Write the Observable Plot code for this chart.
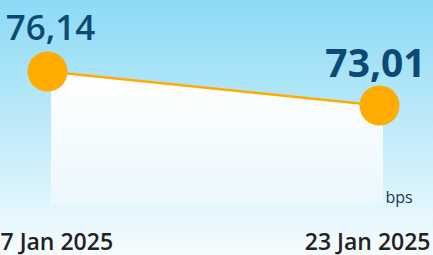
<!DOCTYPE html>
<html>
<head>
<meta charset="utf-8">
<script src="https://cdn.jsdelivr.net/npm/d3@7"></script>
<script src="https://cdn.jsdelivr.net/npm/@observablehq/plot@0.6"></script>
<style>
  html, body { margin: 0; padding: 0; background: #fff; }
  #chart svg { display: block; }
</style>
</head>
<body>
<div id="chart"></div>
<script>
const dates = ["2025-01-07", "2025-01-23"];
const dateLabels = ["7 Jan 2025", "23 Jan 2025"];
const values = [76.14, 73.01];
const unit = "bps";

const data = dates.map((d, i) => ({
  date: new Date(d + "T00:00:00Z"),
  value: values[i],
  label: values[i].toFixed(2).replace(".", ","),
  tick: dateLabels[i]
}));
const first = data[0], last = data[data.length - 1];
const font = "'Open Sans', 'Noto Sans', sans-serif";

const plot = Plot.plot({
  width: 433,
  height: 255,
  margin: 0,
  style: {
    background: "linear-gradient(to bottom, #8cdaf6 0%, #c4ecfa 55%, #f7fcfe 100%)",
    fontFamily: font,
    overflow: "visible"
  },
  x: { type: "utc", domain: [first.date, last.date], range: [47, 379], axis: null },
  y: { domain: [63.8, 76.14], range: [205, 71], axis: null },
  marks: [
    Plot.areaY(data, { x: "date", y1: 63.8, y2: "value", fill: "url(#areaGrad)", dx: 4 }),
    Plot.line(data, { x: "date", y: "value", stroke: "#ffab00", strokeWidth: 2.5 }),
    Plot.dot(data, { x: "date", y: "value", r: 20, fill: "#ffab00", stroke: "none" }),
    Plot.text([first], { x: "date", y: "value", text: "label", lineAnchor: "bottom", dy: -32, dx: 3,
      fontSize: 35, fontWeight: 600, fill: "#0c4a73" }),
    Plot.text([last], { x: "date", y: "value", text: "label", lineAnchor: "bottom", dy: -28, dx: -4,
      fontSize: 39, fontWeight: 700, fill: "#0c4a73" }),
    Plot.text([last], { x: "date", text: () => unit, frameAnchor: "bottom", lineAnchor: "bottom",
      dy: -53, dx: 6, textAnchor: "start", fontSize: 16, fontWeight: 500, fill: "#17385a" }),
    Plot.text([first], { x: "date", text: "tick", frameAnchor: "bottom", lineAnchor: "bottom",
      dy: -6, dx: -47, textAnchor: "start", fontSize: 23, fontWeight: 600, fill: "#222" }),
    Plot.text([last], { x: "date", text: "tick", frameAnchor: "bottom", lineAnchor: "bottom",
      dy: -6, dx: 51, textAnchor: "end", fontSize: 23, fontWeight: 600, fill: "#222" })
  ]
});

const defs = d3.select(plot).insert("defs", ":first-child");
const g = defs.append("linearGradient").attr("id", "areaGrad")
  .attr("gradientUnits", "userSpaceOnUse").attr("x1", 0).attr("x2", 0).attr("y1", 71).attr("y2", 205);
g.append("stop").attr("offset", "0%").attr("stop-color", "#ffffff");
g.append("stop").attr("offset", "100%").attr("stop-color", "#ebf8fd");

document.getElementById("chart").append(plot);
</script>
</body>
</html>
